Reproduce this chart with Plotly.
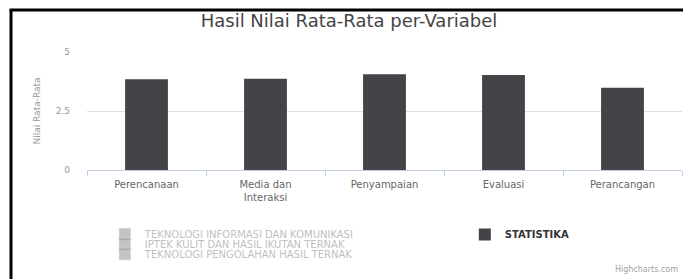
import plotly.graph_objects as go

categories = ["Perencanaan", "Media dan<br>Interaksi", "Penyampaian", "Evaluasi", "Perancangan"]
statistika = [3.85, 3.87, 4.06, 4.03, 3.49]
hidden_tik = [None, None, None, None, None]
hidden_iptek = [None, None, None, None, None]
hidden_tpht = [None, None, None, None, None]
y_ticks = [0, 2.5, 5]
y_tick_labels = ["0", "2.5", "5"]

FONT = "DejaVu Sans"
fig = go.Figure()

fig.add_trace(go.Bar(x=categories, y=hidden_tik, name="TEKNOLOGI INFORMASI DAN KOMUNIKASI",
                     marker_color="#8a8a8a", visible="legendonly", legend="legend"))
fig.add_trace(go.Bar(x=categories, y=statistika, name="STATISTIKA",
                     marker_color="#434348", marker_line_width=0, legend="legend4"))
fig.add_trace(go.Bar(x=categories, y=hidden_iptek, name="IPTEK KULIT DAN HASIL IKUTAN TERNAK",
                     marker_color="#8a8a8a", visible="legendonly", legend="legend2"))
fig.add_trace(go.Bar(x=categories, y=hidden_tpht, name="TEKNOLOGI PENGOLAHAN HASIL TERNAK",
                     marker_color="#8a8a8a", visible="legendonly", legend="legend3"))

gray_leg = dict(font=dict(family=FONT, size=10, color="#808080"), bgcolor="rgba(0,0,0,0)",
                xanchor="left", yanchor="top", orientation="v", borderwidth=0, visible=True)

fig.update_layout(
    width=683, height=279,
    margin=dict(l=87, r=1, t=52, b=109),
    paper_bgcolor="white", plot_bgcolor="white",
    showlegend=True,
    barmode="group", bargap=0.64,
    title=dict(text="Hasil Nilai Rata-Rata per-Variabel", x=0.511, xanchor="center",
               y=0.925, yanchor="middle", font=dict(family=FONT, size=18, color="#444444")),
    xaxis=dict(showline=True, linecolor="#C0D0E0", linewidth=1, ticks="outside",
               tickson="boundaries", ticklen=5, tickcolor="#C0D0E0",
               tickfont=dict(family=FONT, size=10, color="#666666"), showgrid=False,
               ticklabelstandoff=5),
    yaxis=dict(range=[0, 5], tickvals=y_ticks, ticktext=y_tick_labels,
               gridcolor="#e0e0e0", gridwidth=1, zeroline=False, showline=False,
               tickfont=dict(family=FONT, size=9, color="#999999"), ticklabelstandoff=16,
               title=dict(text="Nilai Rata-Rata", standoff=13,
                          font=dict(family=FONT, size=9, color="#999999"))),
    legend=dict(x=0.03, y=-0.420, **gray_leg),
    legend2=dict(x=0.03, y=-0.505, **gray_leg),
    legend3=dict(x=0.03, y=-0.590, **gray_leg),
    legend4=dict(x=0.635, y=-0.424, xanchor="left", yanchor="top", bgcolor="rgba(0,0,0,0)",
                 visible=True,
                 font=dict(family=FONT, size=10, color="#333333", weight="bold")),
    shapes=[
        dict(type="line", xref="paper", yref="paper", x0=-0.1277, x1=-0.1277, y0=-1.0, y1=1.356,
             line=dict(color="black", width=3)),
        dict(type="line", xref="paper", yref="paper", x0=-0.1302, x1=1.05, y0=1.356, y1=1.356,
             line=dict(color="black", width=3)),
    ],
    annotations=[
        dict(text="Highcharts.com", xref="paper", yref="paper", x=0.997, y=-0.847,
             xanchor="right", yanchor="middle", showarrow=False,
             font=dict(family=FONT, size=8, color="#a0a0a0")),
    ],
)

fig.write_html("out.html", config={"displayModeBar": False},
               post_script="document.body.style.margin='0';")
